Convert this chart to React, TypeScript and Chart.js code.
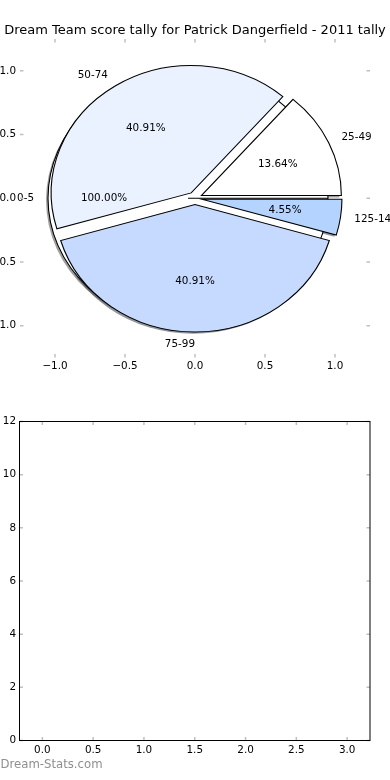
import React, { useEffect, useRef } from 'react';
import { Chart, registerables } from 'chart.js';

Chart.register(...registerables);

// ---------- data ----------
const titleText = 'Dream Team score tally for Patrick Dangerfield - 2011 tally';
const watermarkText = 'Dream-Stats.com';

// first pie (drawn underneath): a single full wedge
const baseLabels = ['0-5'];
const baseCounts = [1];
const baseColors = ['#ffffff'];

// second pie: counter-clockwise from 3 o'clock (matplotlib order)
const sliceLabels = ['25-49', '50-74', '75-99', '125-149'];
const sliceCounts = [3, 9, 9, 1];
const sliceColors = ['#ffffff', '#eaf1ff', '#c6d9ff', '#b4d4ff'];

const explode = 0.05;
const labelDistance = 1.1;
const pctDistance = 0.6;
const shadowShift = 0.014;

const pieTicks = [-1, -0.5, 0, 0.5, 1];
const pieTickLabels = ['\u22121.0', '\u22120.5', '0.0', '0.5', '1.0'];

const barXTicks = [0, 0.5, 1, 1.5, 2, 2.5, 3];
const barXTickLabels = ['0.0', '0.5', '1.0', '1.5', '2.0', '2.5', '3.0'];
const barYTicks = [0, 2, 4, 6, 8, 10, 12];
const barYTickLabels = ['0', '2', '4', '6', '8', '10', '12'];

// ---------- style ----------
const FONT = '"DejaVu Sans", Verdana, sans-serif';
const TICK_FONT = 10.4;
const TICK_COLOR = '#c0c0c0';

function shadowOf(hex: string) {
  const h = hex.replace('#', '');
  const r = parseInt(h.slice(0, 2), 16) * 0.3;
  const g = parseInt(h.slice(2, 4), 16) * 0.3;
  const b = parseInt(h.slice(4, 6), 16) * 0.3;
  return `rgba(${r.toFixed(0)},${g.toFixed(0)},${b.toFixed(0)},0.55)`;
}

function pct(counts: number[], i: number) {
  const t = counts.reduce((a, b) => a + b, 0);
  return (100 * counts[i] / t).toFixed(2) + '%';
}

const innerTicks = {
  id: 'innerTicks',
  afterDraw(chart: any, _a: any, opts: any) {
    const { ctx, chartArea: ca } = chart;
    const xs = chart.scales.x, ys = chart.scales.y;
    const L = 3.5;
    ctx.save();
    ctx.strokeStyle = TICK_COLOR;
    ctx.lineWidth = 1.5;
    ctx.beginPath();
    xs.ticks.forEach((t: any) => {
      const px = xs.getPixelForValue(t.value);
      ctx.moveTo(px, ca.bottom); ctx.lineTo(px, ca.bottom - L);
      ctx.moveTo(px, ca.top); ctx.lineTo(px, ca.top + L);
    });
    ys.ticks.forEach((t: any) => {
      const py = ys.getPixelForValue(t.value);
      ctx.moveTo(ca.left, py); ctx.lineTo(ca.left + L, py);
      ctx.moveTo(ca.right, py); ctx.lineTo(ca.right - L, py);
    });
    ctx.stroke();
    if (opts && opts.frame) {
      ctx.strokeStyle = '#000';
      ctx.lineWidth = 1;
      ctx.strokeRect(ca.left, ca.top, ca.right - ca.left, ca.bottom - ca.top);
    }
    ctx.restore();
  },
};

// geometry shared inside the pie plugin
const geom = { R: 1, sx: 1, cx: 0, cy: 0 };

function eachArc(chart: any, fn: (el: any, dsIndex: number, i: number) => void) {
  chart.data.datasets.forEach((_d: any, di: number) => {
    const meta = chart.getDatasetMeta(di);
    meta.data.forEach((el: any, i: number) => fn(el, di, i));
  });
}

const mplPie = {
  id: 'mplPie',
  afterDatasetsUpdate(chart: any) {
    const xs = chart.scales.x, ys = chart.scales.y;
    const cx = xs.getPixelForValue(0);
    const cy = ys.getPixelForValue(0);
    const R = ys.getPixelForValue(0) - ys.getPixelForValue(1);
    const sx = (xs.getPixelForValue(1) - xs.getPixelForValue(0)) / R;
    geom.R = R; geom.sx = sx; geom.cx = cx; geom.cy = cy;
    eachArc(chart, (el) => {
      const mid = (el.startAngle + el.endAngle) / 2;
      el.outerRadius = R;
      el.innerRadius = 0;
      el.x = cx + Math.cos(mid) * explode * R;
      el.y = cy + Math.sin(mid) * explode * R;
    });
  },
  beforeDatasetsDraw(chart: any) {
    const { ctx } = chart;
    const { cx, cy, sx, R } = geom;
    ctx.save();
    ctx.translate(cx, cy);
    ctx.scale(sx, 1);
    ctx.translate(-cx, -cy);
    // shadows underneath every wedge
    eachArc(chart, (el) => {
      const o = el.options;
      ctx.save();
      ctx.translate(-shadowShift * R, shadowShift * R);
      el.options = Object.assign({}, o, { backgroundColor: shadowOf(o.backgroundColor), borderWidth: 0 });
      el.draw(ctx);
      el.options = o;
      ctx.restore();
    });
  },
  afterDatasetsDraw(chart: any) {
    const { ctx } = chart;
    ctx.restore();
    const { cx, sx, R } = geom;
    ctx.save();
    ctx.fillStyle = '#000';
    ctx.font = `${TICK_FONT}px ${FONT}`;
    ctx.textBaseline = 'middle';
    eachArc(chart, (el, di, i) => {
      const mid = (el.startAngle + el.endAngle) / 2;
      const c = Math.cos(mid), s = Math.sin(mid);
      let label: string, pctText: string;
      if (di === 0) {
        const k = sliceCounts.length - 1 - i;
        label = sliceLabels[k];
        pctText = pct(sliceCounts, k);
      } else {
        label = baseLabels[i];
        pctText = pct(baseCounts, i);
      }
      const lx = cx + sx * ((el.x - cx) + c * labelDistance * R);
      const ly = el.y + s * labelDistance * R;
      ctx.textAlign = c > 1e-6 ? 'left' : 'right';
      ctx.fillText(label, lx, ly);
      const px = cx + sx * ((el.x - cx) + c * pctDistance * R);
      const py = el.y + s * pctDistance * R;
      ctx.textAlign = 'center';
      ctx.fillText(pctText, px, py);
    });
    ctx.restore();
  },
  afterDraw(chart: any) {
    const { ctx, chartArea: ca } = chart;
    ctx.save();
    ctx.fillStyle = '#000';
    ctx.font = `13px ${FONT}`;
    ctx.textAlign = 'center';
    ctx.textBaseline = 'alphabetic';
    ctx.fillText(titleText, (ca.left + ca.right) / 2, ca.top - 4.7);
    ctx.restore();
  },
};

const watermark = {
  id: 'watermark',
  afterDraw(chart: any) {
    const { ctx } = chart;
    ctx.save();
    ctx.fillStyle = '#8f8f8f';
    ctx.font = `11.7px ${FONT}`;
    ctx.textAlign = 'left';
    ctx.textBaseline = 'alphabetic';
    ctx.fillText(watermarkText, 0.5, 377.5);
    ctx.restore();
  },
};

function axis(pos: 'x' | 'y', min: number, max: number, tv: number[], tl: string[], size: number, pad: number) {
  return {
    type: 'linear',
    position: pos === 'x' ? 'bottom' : 'left',
    min,
    max,
    afterBuildTicks: (s: any) => { s.ticks = tv.map((v) => ({ value: v })); },
    afterFit: (s: any) => { if (pos === 'x') s.height = size; else s.width = size; },
    grid: { display: false, drawTicks: false },
    border: { display: false },
    ticks: {
      autoSkip: false,
      maxRotation: 0,
      minRotation: 0,
      padding: pad,
      color: '#000',
      font: { family: FONT, size: TICK_FONT },
      callback: (_v: any, i: number) => tl[i],
    },
  };
}

export default function App() {
  const topRef = useRef<HTMLCanvasElement>(null);
  const botRef = useRef<HTMLCanvasElement>(null);

  useEffect(() => {
    const pie = new Chart(topRef.current as HTMLCanvasElement, {
      type: 'pie',
      data: {
        labels: sliceLabels.slice().reverse(),
        datasets: [
          {
            data: sliceCounts.slice().reverse(),
            backgroundColor: sliceColors.slice().reverse(),
            borderColor: '#000',
            borderWidth: 1,
            borderJoinStyle: 'miter',
          } as any,
          {
            data: baseCounts,
            backgroundColor: baseColors,
            borderColor: '#000',
            borderWidth: 1,
            borderJoinStyle: 'miter',
          } as any,
        ],
      },
      options: {
        responsive: false,
        animation: false,
        events: [],
        rotation: 90,
        layout: { padding: { left: 0, right: 20, top: 39, bottom: 12.5 } },
        plugins: {
          legend: { display: false },
          tooltip: { enabled: false },
          title: { display: false },
          innerTicks: { frame: false },
        },
        scales: {
          x: axis('x', -1.25, 1.25, pieTicks, pieTickLabels, 20, 3),
          y: axis('y', -1.25, 1.25, pieTicks, pieTickLabels, 20, 4),
        } as any,
      } as any,
      plugins: [mplPie, innerTicks],
    });

    const bar = new Chart(botRef.current as HTMLCanvasElement, {
      type: 'scatter',
      data: { datasets: [] },
      options: {
        responsive: false,
        animation: false,
        events: [],
        layout: { padding: { left: 0, right: 20, top: 31.5, bottom: 19.5 } },
        plugins: {
          legend: { display: false },
          tooltip: { enabled: false },
          innerTicks: { frame: true },
        },
        scales: {
          x: axis('x', -0.225, 3.225, barXTicks, barXTickLabels, 20, 4),
          y: axis('y', 0, 12, barYTicks, barYTickLabels, 19.5, 3.5),
        } as any,
      } as any,
      plugins: [innerTicks, watermark],
    });

    return () => {
      pie.destroy();
      bar.destroy();
    };
  }, []);

  return (
    <div style={{ position: 'relative', width: 390, height: 780, overflow: 'hidden', background: '#fff' }}>
      <style>{'body{margin:0}'}</style>
      <canvas ref={topRef} width={390} height={390} style={{ position: 'absolute', left: 0, top: 0, display: 'block' }} />
      <canvas ref={botRef} width={390} height={390} style={{ position: 'absolute', left: 0, top: 390, display: 'block' }} />
    </div>
  );
}
